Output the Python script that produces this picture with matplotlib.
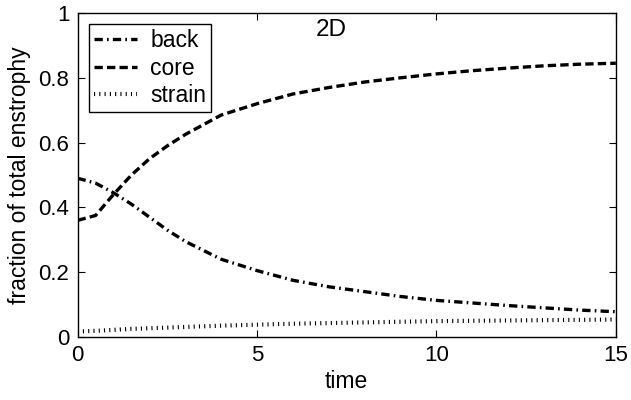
import matplotlib
matplotlib.use("Agg")
import matplotlib.pyplot as plt

plt.rcParams['font.family'] = ['Liberation Sans', 'DejaVu Sans']
plt.rcParams['lines.scale_dashes'] = False

t = [0, 0.5, 1, 1.5, 2, 2.5, 3, 4, 5, 6, 7, 8, 9, 10, 11, 12, 13, 14, 15]
back = [0.49, 0.475, 0.445, 0.41, 0.37, 0.33, 0.295, 0.24, 0.205, 0.175, 0.155,
        0.14, 0.125, 0.113, 0.105, 0.097, 0.09, 0.083, 0.078]
core = [0.36, 0.375, 0.44, 0.50, 0.55, 0.59, 0.625, 0.685, 0.72, 0.75, 0.77,
        0.787, 0.80, 0.812, 0.822, 0.83, 0.837, 0.842, 0.845]
strain = [0.017, 0.019, 0.022, 0.025, 0.027, 0.029, 0.031, 0.035, 0.038, 0.041,
          0.043, 0.045, 0.047, 0.049, 0.05, 0.051, 0.052, 0.053, 0.054]

xticks = [0, 5, 10, 15]
yticks = [0, 0.2, 0.4, 0.6, 0.8, 1]
yticklabels = ['0', '0.2', '0.4', '0.6', '0.8', '1']

fig = plt.figure(figsize=(6.31, 4.0), dpi=100)
ax = fig.add_axes([0.123, 0.1575, 0.853, 0.81])

ax.plot(t, back, color='black', lw=2.4, dashes=[6, 3, 1.2, 3], label='back')
ax.plot(t, core, color='black', lw=2.4, dashes=[6, 3], label='core')
ax.plot(t, strain, color='black', lw=3.0, dashes=[0.8, 3.0], dash_capstyle='butt',
        label='strain')

ax.set_xlim(0, 15)
ax.set_ylim(0, 1)
ax.set_xticks(xticks)
ax.set_yticks(yticks)
ax.set_yticklabels(yticklabels)
ax.tick_params(direction='in', top=True, right=True, length=5, labelsize=16, pad=6)
ax.set_xlabel('time', fontsize=16.5, labelpad=3)
ax.set_ylabel('fraction of total enstrophy', fontsize=16.5, labelpad=5)
for s in ax.spines.values():
    s.set_linewidth(1.0)

ax.text(6.65, 0.948, '2D', fontsize=17.5, va='center', ha='left')

leg = ax.legend(loc='upper left', bbox_to_anchor=(0.021, 0.966), fontsize=16.5,
                handlelength=1.9, handletextpad=0.55, borderpad=0.22, labelspacing=0.2,
                fancybox=False, framealpha=1, edgecolor='black', borderaxespad=0)
leg.get_frame().set_linewidth(1.0)

fig.savefig('out.png', dpi=100)
